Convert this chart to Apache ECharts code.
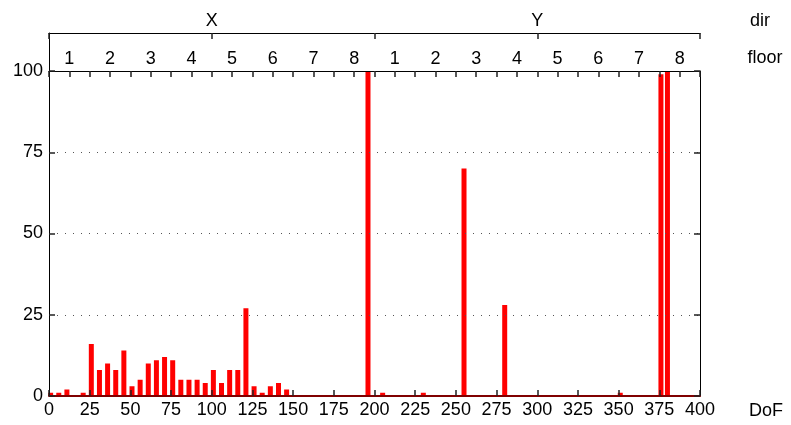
<!DOCTYPE html>
<html>
<head>
<meta charset="utf-8">
<script src="https://cdn.jsdelivr.net/npm/echarts@6/dist/echarts.min.js"></script>
<style>html,body{margin:0;padding:0;background:#fff;}#c{width:791px;height:425px;}</style>
</head>
<body>
<div id="c"></div>
<script>
// DoF positions and bar values
const dof = [1, 6, 11, 21, 26, 31, 36, 41, 46, 51, 56, 61, 66, 71, 76, 81, 86, 91, 96, 101,
  106, 111, 116, 121, 126, 131, 136, 141, 146, 196, 205, 230, 255, 280, 351, 376, 380];
const values = [1, 1, 2, 1, 16, 8, 10, 8, 14, 3, 5, 10, 11, 12, 11, 5, 5, 5, 4, 8,
  4, 8, 8, 27, 3, 1, 3, 4, 2, 100, 1, 1, 70, 28, 1, 99, 100];
const floorLabels = ['1', '2', '3', '4', '5', '6', '7', '8'];
const dirLabels = ['X', 'Y'];
const xTicks = [0, 25, 50, 75, 100, 125, 150, 175, 200, 225, 250, 275, 300, 325, 350, 375, 400];
const yTicks = [0, 25, 50, 75, 100];

const FONT = '"Liberation Sans", Arial, sans-serif';
const FS = 18;
const TICK = {color: '#222', width: 1.5};
const chart = echarts.init(document.getElementById('c'), null, {renderer: 'canvas'});
const barData = dof.map((d, i) => [d, values[i]]);

chart.setOption({
  animation: false,
  backgroundColor: '#fff',
  grid: [
    {left: 49, top: 71, width: 651, height: 325, containLabel: false},
    {left: 49, top: 33, width: 651, height: 38, containLabel: false}
  ],
  xAxis: [
    {
      gridIndex: 0, type: 'value', position: 'bottom', min: 0, max: 400, interval: 25, z: 10,
      axisLine: {show: true, onZero: false, lineStyle: {color: '#800000', width: 2}},
      axisTick: {show: true, inside: true, length: 6, lineStyle: TICK},
      axisLabel: {fontSize: FS, fontFamily: FONT, color: '#000', margin: 5,
        formatter: v => xTicks.indexOf(v) >= 0 ? String(v) : ''},
      splitLine: {show: false}
    },
    {
      gridIndex: 0, type: 'value', position: 'top', min: 0, max: 400, interval: 12.5, z: 10,
      axisLine: {show: true, onZero: false, lineStyle: {color: '#000', width: 1}},
      axisTick: {show: true, inside: true, length: 6, lineStyle: TICK},
      axisLabel: {fontSize: FS, fontFamily: FONT, color: '#000', margin: 3,
        formatter: v => {
          const k = (v - 12.5) / 25;
          if (Math.abs(k - Math.round(k)) < 1e-6 && k >= 0 && k < 16) return floorLabels[Math.round(k) % 8];
          return '';
        }},
      splitLine: {show: false}
    },
    {
      gridIndex: 1, type: 'value', position: 'top', min: 0, max: 400, interval: 100, z: 10,
      axisLine: {show: true, onZero: false, lineStyle: {color: '#000', width: 1}},
      axisTick: {show: true, inside: true, length: 6, lineStyle: TICK},
      axisLabel: {fontSize: FS, fontFamily: FONT, color: '#000', margin: 3,
        formatter: v => v === 100 ? dirLabels[0] : (v === 300 ? dirLabels[1] : '')},
      splitLine: {show: false}
    }
  ],
  yAxis: [
    {
      gridIndex: 0, type: 'value', position: 'left', min: 0, max: 100, interval: 25, z: 10,
      axisLine: {show: true, onZero: false, lineStyle: {color: '#000', width: 1}},
      axisTick: {show: true, inside: true, length: 6, lineStyle: TICK},
      axisLabel: {fontSize: FS, fontFamily: FONT, color: '#000', margin: 6,
        formatter: v => yTicks.indexOf(v) >= 0 ? String(v) : ''},
      splitLine: {show: true, lineStyle: {color: '#555', width: 1, type: [1, 7]}}
    },
    {
      gridIndex: 0, type: 'value', position: 'right', min: 0, max: 100, interval: 25, z: 10,
      axisLine: {show: true, onZero: false, lineStyle: {color: '#000', width: 1}},
      axisTick: {show: true, inside: true, length: 6, lineStyle: TICK},
      axisLabel: {show: false},
      splitLine: {show: false}
    },
    {
      gridIndex: 1, type: 'value', position: 'left', min: 0, max: 1,
      axisLine: {show: true, onZero: false, lineStyle: {color: '#000', width: 1}},
      axisTick: {show: false}, axisLabel: {show: false}, splitLine: {show: false}
    }
  ],
  series: [{
    type: 'bar', xAxisIndex: 0, yAxisIndex: 0, data: barData, barWidth: 5,
    itemStyle: {color: '#ff0000'}, z: 2
  }],
  graphic: [
    {type: 'text', x: 760, y: 21, style: {text: 'dir', font: FS + 'px ' + FONT, fill: '#000', align: 'center', verticalAlign: 'middle'}},
    {type: 'text', x: 765, y: 58, style: {text: 'floor', font: FS + 'px ' + FONT, fill: '#000', align: 'center', verticalAlign: 'middle'}},
    {type: 'text', x: 766, y: 411, style: {text: 'DoF', font: FS + 'px ' + FONT, fill: '#000', align: 'center', verticalAlign: 'middle'}}
  ]
});
</script>
</body>
</html>
